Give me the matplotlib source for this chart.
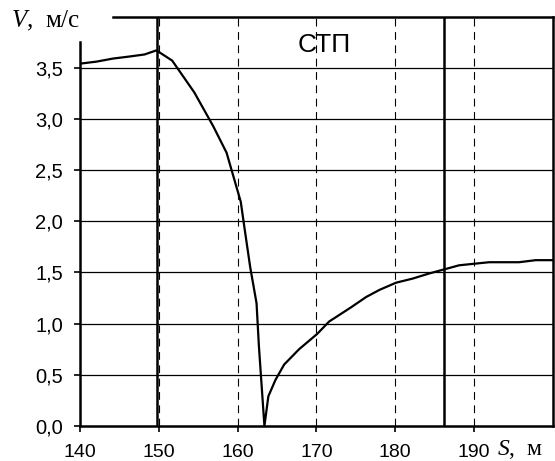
import matplotlib
matplotlib.use("Agg")
import matplotlib.pyplot as plt

# ------------------------------------------------------------
# Данные: скорость V (м/с) по пути S (м)
# ------------------------------------------------------------
s_vals = [140.0, 142.1, 144.2, 146.3, 148.2, 149.7, 151.7, 154.5, 156.9,
          158.6, 160.4, 160.9, 161.6, 162.4, 162.7, 163.4, 163.9, 164.8,
          165.9, 167.8, 170.1, 171.6, 174.4, 176.3, 178.0, 180.1, 182.2,
          184.3, 186.2, 188.1, 191.9, 195.7, 197.8, 199.9]
v_vals = [3.54, 3.56, 3.59, 3.61, 3.63, 3.67, 3.57, 3.26, 2.93,
          2.67, 2.19, 1.92, 1.55, 1.20, 0.78, 0.00, 0.29, 0.45,
          0.60, 0.75, 0.90, 1.02, 1.16, 1.26, 1.33, 1.40, 1.44,
          1.49, 1.53, 1.57, 1.60, 1.60, 1.62, 1.62]

# границы зоны СТП
stp_bounds = [149.8, 186.2]

x_ticks = [140, 150, 160, 170, 180, 190]
y_ticks = [0.0, 0.5, 1.0, 1.5, 2.0, 2.5, 3.0, 3.5]

plt.rcParams["font.family"] = ["Liberation Sans", "DejaVu Sans"]
plt.rcParams["mathtext.fontset"] = "custom"
plt.rcParams["mathtext.rm"] = "Liberation Serif"
plt.rcParams["mathtext.it"] = "Liberation Serif:italic"

fig = plt.figure(figsize=(5.55, 4.61), dpi=100)
ax = fig.add_axes([0.144, 0.076, 0.8524, 0.888])

ax.set_xlim(140, 200)
ax.set_ylim(0, 4.0)

# сетка: вертикальные пунктирные, горизонтальные сплошные
for x in x_ticks[1:]:
    ax.axvline(x, color="black", lw=0.8, ls=(0, (7, 5)), zorder=1)
for y in y_ticks[1:]:
    ax.axhline(y, color="black", lw=0.9, zorder=1)

for x in stp_bounds:
    ax.axvline(x, color="black", lw=1.8, zorder=2)

ax.plot(s_vals, v_vals, color="black", lw=1.6, zorder=3)

ax.set_xticks(x_ticks)
ax.set_yticks(y_ticks)
ax.set_yticklabels([f"{v:.1f}".replace(".", ",") for v in y_ticks])
ax.tick_params(axis="both", direction="out", length=4.3, width=1.2,
               colors="black")
ax.tick_params(axis="x", labelsize=14, pad=9)
ax.tick_params(axis="y", labelsize=14.5, pad=8)

for side in ["left", "right", "top", "bottom"]:
    ax.spines[side].set_linewidth(1.8)
ax.spines["left"].set_bounds(0, 3.75)
ax.spines["top"].set_bounds(144.2, 200)

ax.text(171.0, 3.72, "СТП", fontsize=19, ha="center", va="center")

fig.text(0.02, 0.9414, r"$\it{V}$,  м/с", fontsize=18,
         family="Liberation Serif", ha="left", va="baseline")
fig.text(0.8955, 0.013, r"$\it{S}$,  м", fontsize=17,
         family="Liberation Serif", ha="left", va="baseline")

fig.savefig("out.png", dpi=100)
